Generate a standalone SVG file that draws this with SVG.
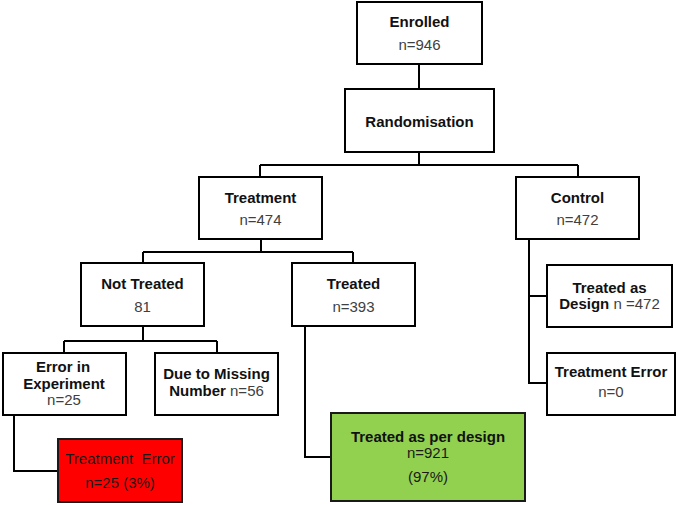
<svg xmlns="http://www.w3.org/2000/svg" width="685" height="505" viewBox="0 0 685 505">
<style>
.box{fill:#fff;stroke:#000;stroke-width:2}
.red{fill:#ff0000;stroke:#1a1a1a;stroke-width:2}
.green{fill:#92d050;stroke:#1a1a1a;stroke-width:2}
.ln{fill:none;stroke:#000;stroke-width:2}
text{font-family:"Liberation Sans",Arial,sans-serif;font-size:15px;text-anchor:middle}
.b{font-weight:bold;fill:#111}
.n{fill:#404040}
.d{fill:#1a1a1a}
</style>
<g id="connectors">
<path class="ln" d="M419 64V89"/>
<path class="ln" d="M419 152V165M260 165H578M260 165V177M578 165V177"/>
<path class="ln" d="M261 239V252M143 252H353M143 252V263M353 252V263"/>
<path class="ln" d="M143 326V341M64 341H217M64 341V353M217 341V353"/>
<path class="ln" d="M14 415V471H58"/>
<path class="ln" d="M305 326V457H331"/>
<path class="ln" d="M529 239V383H547M529 296H547"/>
</g>
<g id="enrolled"><rect class="box" x="357" y="2" width="125" height="62"/><text class="b" x="419.5" y="27">Enrolled</text><text class="n" x="419.5" y="50">n=946</text></g>
<g id="randomisation"><rect class="box" x="345" y="89" width="149" height="63"/><text class="b" x="419.5" y="127">Randomisation</text></g>
<g id="treatment"><rect class="box" x="199" y="177" width="123" height="62"/><text class="b" x="260.5" y="203">Treatment</text><text class="n" x="260.5" y="225">n=474</text></g>
<g id="control"><rect class="box" x="516" y="177" width="123" height="62"/><text class="b" x="577.5" y="203">Control</text><text class="n" x="577.5" y="225">n=472</text></g>
<g id="not-treated"><rect class="box" x="81" y="263" width="123" height="63"/><text class="b" x="142.5" y="289">Not Treated</text><text class="n" x="142.5" y="312">81</text></g>
<g id="treated"><rect class="box" x="292" y="263" width="123" height="63"/><text class="b" x="353.5" y="289">Treated</text><text class="n" x="353.5" y="312">n=393</text></g>
<g id="error-in-experiment"><rect class="box" x="3" y="353" width="123" height="62"/><text class="b" x="63" y="372">Error in</text><text class="b" x="64" y="389">Experiment</text><text class="n" x="64" y="405">n=25</text></g>
<g id="due-to-missing"><rect class="box" x="155" y="353" width="123" height="62"/><text class="b" x="216.5" y="379">Due to Missing</text><text x="216.5" y="396"><tspan class="b">Number</tspan><tspan class="n">  n=56</tspan></text></g>
<g id="treatment-error-red"><rect class="red" x="58" y="439" width="124" height="63"/><text class="d" x="120" y="464" xml:space="preserve">Treatment  Error</text><text class="d" x="120" y="488">n=25 (3%)</text></g>
<g id="treated-per-design"><rect class="green" x="331" y="413" width="194" height="88"/><text class="b" x="428" y="442">Treated as per design</text><text class="d" x="428" y="458">n=921</text><text class="d" x="428" y="482">(97%)</text></g>
<g id="treated-as-design"><rect class="box" x="547" y="265" width="125" height="62"/><text class="b" x="609.5" y="293">Treated as</text><text x="609.5" y="309"><tspan class="b">Design</tspan><tspan class="n"> n =472</tspan></text></g>
<g id="treatment-error-control"><rect class="box" x="547" y="353" width="128" height="62"/><text class="b" x="611" y="377">Treatment Error</text><text class="n" x="611" y="397">n=0</text></g>
</svg>
